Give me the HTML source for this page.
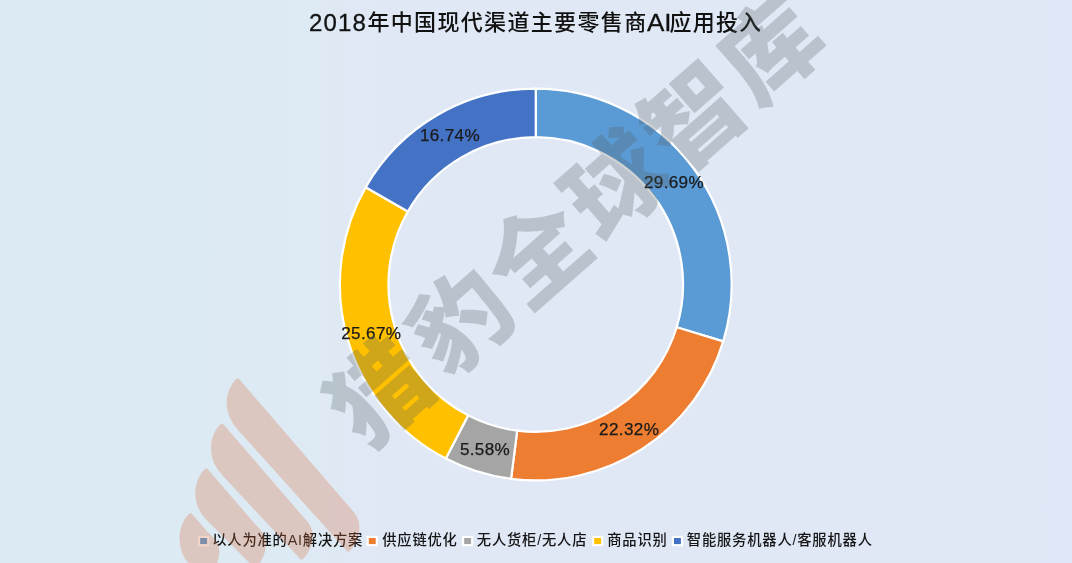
<!DOCTYPE html>
<html lang="zh-CN">
<head>
<meta charset="utf-8">
<title>2018年中国现代渠道主要零售商AI应用投入</title>
<style>
html,body{margin:0;padding:0;background:#dde9f4;}
body{width:1072px;height:563px;overflow:hidden;position:relative;font-family:"Liberation Sans","Noto Sans CJK SC",sans-serif;}
svg{position:absolute;left:0;top:0;display:block;}
text{font-family:"Liberation Sans","Noto Sans CJK SC",sans-serif;}
.title{fill:#111;}
.cjk{font-size:22px;font-weight:500;}
.lat{font-size:24px;letter-spacing:1.1px;stroke:#111;stroke-width:0.3px;}
.dl{font-size:17.1px;fill:#1a1a1a;text-anchor:middle;letter-spacing:0.35px;stroke:#1a1a1a;stroke-width:0.25px;}
.lg{font-size:14.3px;fill:#151515;font-weight:500;letter-spacing:0.8px;}
.wm{font-family:"Noto Sans CJK SC",sans-serif;font-weight:900;font-size:98px;fill:#535f61;}
</style>
</head>
<body>
<svg width="1072" height="563" viewBox="0 0 1072 563">
<defs>
<linearGradient id="bg" x1="0" y1="0" x2="1" y2="0">
<stop offset="0" stop-color="#dbeaf3"/>
<stop offset="0.27" stop-color="#ddeaf3"/>
<stop offset="0.35" stop-color="#e0e8f5"/>
<stop offset="1" stop-color="#e0e8f7"/>
</linearGradient>
</defs>
<rect width="1072" height="563" fill="url(#bg)"/>
<text class="title lat" x="309.1" y="30.8">2018</text>
<text class="title cjk" x="367.4" y="30.2" letter-spacing="1.34">年中国现代渠道主要零售商</text>
<text class="title lat" x="647" y="30.8" textLength="24.6" lengthAdjust="spacingAndGlyphs" style="letter-spacing:0">AI</text>
<text class="title cjk" x="669.5" y="30.2" letter-spacing="1.2">应用投入</text>
<g stroke="#ffffff" stroke-width="2.2" stroke-linejoin="round">
<path d="M535.75 88.60A195.9 195.9 0 0 1 723.21 341.40L676.70 327.28A147.3 147.3 0 0 0 535.75 137.20Z" fill="#5b9bd5"/>
<path d="M723.21 341.40A195.9 195.9 0 0 1 511.08 478.84L517.20 430.63A147.3 147.3 0 0 0 676.70 327.28Z" fill="#ed7d31"/>
<path d="M511.08 478.84A195.9 195.9 0 0 1 445.83 458.54L468.14 415.37A147.3 147.3 0 0 0 517.20 430.63Z" fill="#a5a5a5"/>
<path d="M445.83 458.54A195.9 195.9 0 0 1 365.65 187.33L407.85 211.44A147.3 147.3 0 0 0 468.14 415.37Z" fill="#ffc000"/>
<path d="M365.65 187.33A195.9 195.9 0 0 1 535.75 88.60L535.75 137.20A147.3 147.3 0 0 0 407.85 211.44Z" fill="#4472c4"/>
</g>
<text class="dl" x="674.00" y="187.6">29.69%</text>
<text class="dl" x="629.15" y="434.8">22.32%</text>
<text class="dl" x="485.00" y="454.8">5.58%</text>
<text class="dl" x="371.30" y="338.7">25.67%</text>
<text class="dl" x="449.95" y="140.6">16.74%</text>
<rect x="198.0" y="536.0" width="11.2" height="10.2" fill="#ffffff"/><rect x="200.2" y="538.0" width="6.9" height="6.1" fill="#5b9bd5"/>
<text class="lg" x="212.2" y="544.5">以人为准的AI解决方案</text>
<rect x="366.6" y="536.0" width="11.2" height="10.2" fill="#ffffff"/><rect x="368.8" y="538.0" width="6.9" height="6.1" fill="#ed7d31"/>
<text class="lg" x="382.2" y="544.5">供应链优化</text>
<rect x="462.0" y="536.0" width="11.2" height="10.2" fill="#ffffff"/><rect x="464.2" y="538.0" width="6.9" height="6.1" fill="#a5a5a5"/>
<text class="lg" x="476.8" y="544.5">无人货柜/无人店</text>
<rect x="592.0" y="536.0" width="11.2" height="10.2" fill="#ffffff"/><rect x="594.2" y="538.0" width="6.9" height="6.1" fill="#ffc000"/>
<text class="lg" x="607.2" y="544.5">商品识别</text>
<rect x="671.8" y="536.0" width="11.2" height="10.2" fill="#ffffff"/><rect x="674.0" y="538.0" width="6.9" height="6.1" fill="#4472c4"/>
<text class="lg" x="686.8" y="544.5">智能服务机器人/客服机器人</text>
<g fill="#d96c3a" stroke="#d96c3a" stroke-width="1.6" stroke-linejoin="round" opacity="0.27">
<path d="M238.0 379.0L347.5 506.0C354.0 513.6 358.6 518.0 358.6 527.0C358.6 538.0 353.0 548.0 348.0 551.0L239.0 430.0C232.3 422.6 227.4 413.0 227.4 403.0C227.4 392.0 233.0 382.0 238.0 379.0Z"/>
<path d="M222.3 424.2L299.7 514.0C306.2 521.6 311.9 526.0 311.9 535.0C311.9 546.0 306.3 556.0 301.3 559.0L223.3 475.2C216.5 467.9 211.7 458.2 211.7 448.2C211.7 437.2 217.3 427.2 222.3 424.2Z"/>
<path d="M206.6 469.0L252.3 522.0C258.8 529.6 265.2 534.0 265.2 543.0C265.2 554.0 259.6 564.0 254.6 567.0L207.6 520.0C200.5 512.9 196.0 503.0 196.0 493.0C196.0 482.0 201.6 472.0 206.6 469.0Z"/>
<path d="M190.9 513.8L204.9 530.0C211.4 537.6 218.6 542.0 218.6 551.0C218.6 562.0 213.0 572.0 208.0 575.0L191.9 564.8C183.5 559.4 180.3 547.8 180.3 537.8C180.3 526.8 185.9 516.8 190.9 513.8Z"/>
</g>
<g opacity="0.27"><text class="wm" transform="translate(366.3 452.0) rotate(-41.3)" x="0.0 108.8 210.6 314.9 418.2 520.0" y="0">猎豹全球智库</text></g>
</svg>
</body>
</html>
